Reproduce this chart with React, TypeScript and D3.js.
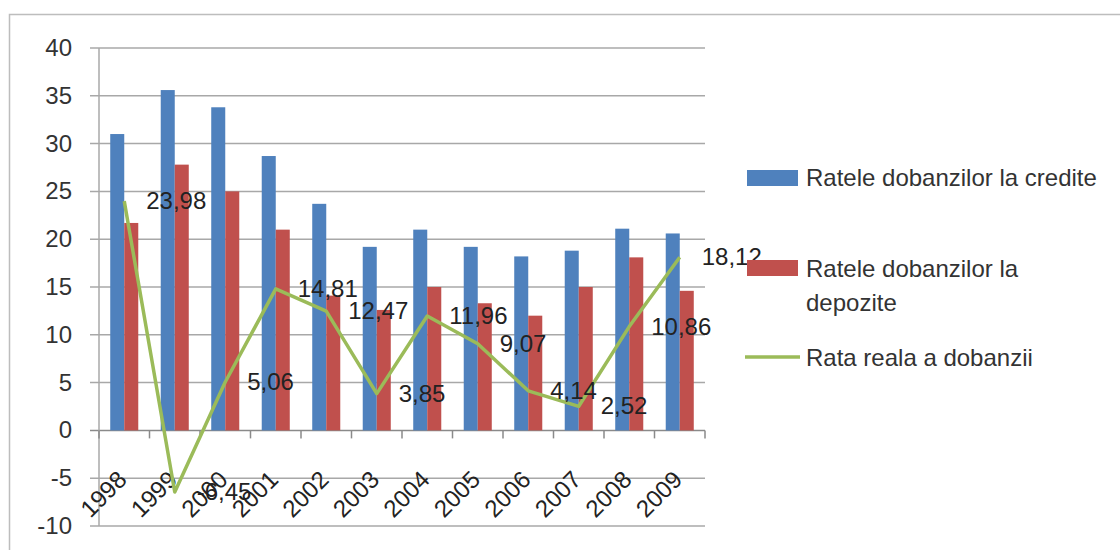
import React, { useEffect, useRef } from 'react';
import * as d3 from 'd3';

const years = ['1998', '1999', '2000', '2001', '2002', '2003', '2004', '2005', '2006', '2007', '2008', '2009'];
const credite = [31.0, 35.6, 33.8, 28.7, 23.7, 19.2, 21.0, 19.2, 18.2, 18.8, 21.1, 20.6];
const depozite = [21.7, 27.8, 25.0, 21.0, 14.1, 12.6, 15.0, 13.3, 12.0, 15.0, 18.1, 14.6];
const rataReala = [23.98, -6.45, 5.06, 14.81, 12.47, 3.85, 11.96, 9.07, 4.14, 2.52, 10.86, 18.12];
const yTicks = [-10, -5, 0, 5, 10, 15, 20, 25, 30, 35, 40];

const BLUE = '#4F81BD';
const RED = '#C0504D';
const GREEN = '#9BBB59';
const FONT = '"Liberation Sans", Arial, sans-serif';

function fmt(v: number) {
  return v.toFixed(2).replace('.', ',');
}

export default function App() {
  const ref = useRef<SVGSVGElement | null>(null);

  useEffect(() => {
    const svg = d3.select(ref.current);
    svg.selectAll('*').remove();

    const left = 99, right = 705, top = 48, bottom = 526;

    const x = d3.scaleBand<string>().domain(years).range([left, right])
      .paddingInner(0.445).paddingOuter(0.2225);
    const xSub = d3.scaleBand<string>().domain(['c', 'd']).range([0, x.bandwidth()]);
    const y = d3.scaleLinear().domain([-10, 40]).range([bottom, top]);

    // outer chart border
    svg.append('path')
      .attr('d', `M9.5,560 L9.5,14.5 L1130,14.5`)
      .attr('fill', 'none').attr('stroke', '#bdbdbd').attr('stroke-width', 1.5);

    // gridlines
    svg.append('g').selectAll('line').data(yTicks).join('line')
      .attr('x1', left - 9).attr('x2', right)
      .attr('y1', d => y(d)).attr('y2', d => y(d))
      .attr('stroke', d => d === 0 ? '#8a8a8a' : '#a8a8a8').attr('stroke-width', 1.5);

    // y axis line
    svg.append('line').attr('x1', left).attr('x2', left).attr('y1', top).attr('y2', bottom)
      .attr('stroke', '#a8a8a8').attr('stroke-width', 1.5);

    // x ticks at zero line
    const step = x.step();
    svg.append('g').selectAll('line').data(d3.range(years.length + 1)).join('line')
      .attr('x1', i => left + i * step).attr('x2', i => left + i * step)
      .attr('y1', y(0)).attr('y2', y(0) + 8)
      .attr('stroke', '#8a8a8a').attr('stroke-width', 1.5);

    // y tick labels
    svg.append('g').selectAll('text').data(yTicks).join('text')
      .attr('x', 72).attr('y', d => y(d) + 8)
      .attr('text-anchor', 'end')
      .attr('font-family', FONT).attr('font-size', 24).attr('fill', '#333')
      .text(d => String(d));

    // bars
    const bars = svg.append('g');
    bars.selectAll('rect.c').data(credite).join('rect')
      .attr('class', 'c')
      .attr('x', (d, i) => (x(years[i]) as number) + (xSub('c') as number))
      .attr('width', xSub.bandwidth())
      .attr('y', d => y(d)).attr('height', d => y(0) - y(d))
      .attr('fill', BLUE);
    bars.selectAll('rect.d').data(depozite).join('rect')
      .attr('class', 'd')
      .attr('x', (d, i) => (x(years[i]) as number) + (xSub('d') as number))
      .attr('width', xSub.bandwidth())
      .attr('y', d => y(d)).attr('height', d => y(0) - y(d))
      .attr('fill', RED);

    // category labels, rotated
    svg.append('g').selectAll('text').data(years).join('text')
      .attr('transform', d => `translate(${(x(d) as number) + x.bandwidth() / 2 + 4},${481}) rotate(-45)`)
      .attr('text-anchor', 'end')
      .attr('font-family', FONT).attr('font-size', 24).attr('fill', '#222')
      .text(d => d);

    // real rate line
    const cx = (i: number) => (x(years[i]) as number) + x.bandwidth() / 2;
    const line = d3.line<number>().x((d, i) => cx(i)).y(d => y(d));
    svg.append('path').datum(rataReala)
      .attr('d', line)
      .attr('fill', 'none').attr('stroke', GREEN).attr('stroke-width', 3.5)
      .attr('stroke-linejoin', 'round');

    // data labels
    svg.append('g').selectAll('text').data(rataReala).join('text')
      .attr('x', (d, i) => cx(i) + 22).attr('y', d => y(d) + 8)
      .attr('font-family', FONT).attr('font-size', 24).attr('fill', '#222')
      .text(d => fmt(d));

    // legend
    const lg = svg.append('g').attr('font-family', FONT).attr('font-size', 24).attr('fill', '#333');
    lg.append('rect').attr('x', 747).attr('y', 170).attr('width', 51).attr('height', 16).attr('fill', BLUE);
    lg.append('text').attr('x', 806).attr('y', 186).text('Ratele dobanzilor la credite');
    lg.append('rect').attr('x', 747).attr('y', 260).attr('width', 51).attr('height', 16).attr('fill', RED);
    lg.append('text').attr('x', 806).attr('y', 277).text('Ratele dobanzilor la');
    lg.append('text').attr('x', 806).attr('y', 311).text('depozite');
    lg.append('line').attr('x1', 745).attr('x2', 800).attr('y1', 357).attr('y2', 357)
      .attr('stroke', GREEN).attr('stroke-width', 3.5);
    lg.append('text').attr('x', 806).attr('y', 366).text('Rata reala a dobanzii');
  }, []);

  return (
    <svg ref={ref} width={1120} height={550}
      style={{ position: 'absolute', left: 0, top: 0, background: '#fff' }} />
  );
}
